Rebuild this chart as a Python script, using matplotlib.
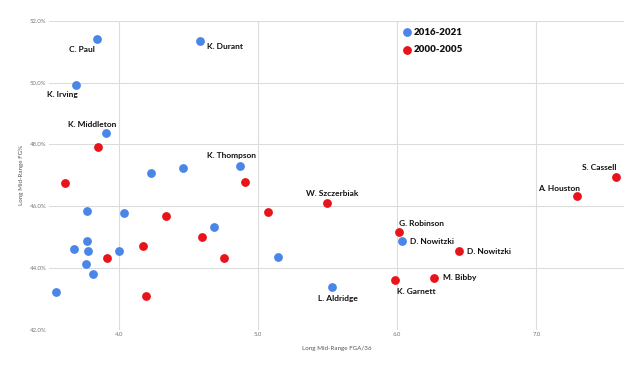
import matplotlib
matplotlib.use("Agg")
import matplotlib.pyplot as plt
from matplotlib.ticker import FuncFormatter, MultipleLocator

# ---- data ----
recent_x = [3.844, 4.584, 3.695, 3.909, 4.232, 4.462, 4.874, 3.770, 4.040, 4.685,
            3.772, 3.681, 3.779, 4.004, 3.763, 3.813, 3.552, 5.144, 5.535, 6.035]
recent_y = [51.41, 51.36, 49.94, 48.36, 47.06, 47.23, 47.30, 45.85, 45.78, 45.32,
            44.86, 44.62, 44.55, 44.53, 44.11, 43.80, 43.21, 44.34, 43.38, 44.86]
recent_labels = ["C. Paul", "K. Durant", "K. Irving", "K. Middleton", "", "", "K. Thompson",
                 "", "", "", "", "", "", "", "", "", "", "", "L. Aldridge", "D. Nowitzki"]

old_x = [3.849, 3.616, 4.910, 5.073, 4.338, 4.601, 4.177, 3.914, 4.754, 4.196,
         5.499, 7.295, 7.575, 6.011, 6.442, 6.265, 5.985]
old_y = [47.93, 46.74, 46.77, 45.82, 45.68, 45.00, 44.72, 44.32, 44.32, 43.09,
         46.09, 46.32, 46.94, 45.15, 44.54, 43.67, 43.60]
old_labels = ["", "", "", "", "", "", "", "", "", "",
              "W. Szczerbiak", "A. Houston", "S. Cassell", "G. Robinson", "D. Nowitzki",
              "M. Bibby", "K. Garnett"]

series_names = ["2016-2021", "2000-2005"]
x_label = "Long Mid-Range FGA/36"
y_label = "Long Mid-Range FG%"

# ---- styling / placement ----
BLUE = "#4a86e8"
RED = "#e8131b"
FONT = "Lato"

# label offsets in pixels (dx, dy, ha)
recent_offsets = {
    "C. Paul": (-15, -10.5, "center"),
    "K. Durant": (7, -5.6, "left"),
    "K. Irving": (-14, -10, "center"),
    "K. Middleton": (-14, 9, "center"),
    "K. Thompson": (-9, 10.3, "center"),
    "L. Aldridge": (5.4, -11.3, "center"),
    "D. Nowitzki": (8, 0, "left"),
}
old_offsets = {
    "W. Szczerbiak": (5, 10, "center"),
    "A. Houston": (-18, 8, "center"),
    "S. Cassell": (0, 9.3, "right"),
    "G. Robinson": (23, 9.3, "center"),
    "D. Nowitzki": (8, 0, "left"),
    "M. Bibby": (8.7, 0, "left"),
    "K. Garnett": (2, -11.3, "left"),
}

X0, X1 = 3.5, 7.63
left_px = 49.1
fig = plt.figure(figsize=(6.4, 3.71), dpi=100)
ax = fig.add_axes([left_px / 640, 1 - 329.5 / 371, (624 - left_px) / 640, (329.5 - 21) / 371])

ax.scatter(recent_x, recent_y, s=40, color=BLUE, zorder=3, label=series_names[0], linewidths=0)
ax.scatter(old_x, old_y, s=40, color=RED, zorder=3, label=series_names[1], linewidths=0)

def add_labels(xs, ys, labels, offsets):
    for x, y, lab in zip(xs, ys, labels):
        if not lab:
            continue
        dx, dy, ha = offsets[lab]
        ax.annotate(lab, (x, y), xytext=(dx, dy), textcoords="offset pixels",
                    ha=ha, va="center", fontsize=6, fontweight="bold",
                    family=FONT, color="#111111", zorder=4)

add_labels(recent_x, recent_y, recent_labels, recent_offsets)
add_labels(old_x, old_y, old_labels, old_offsets)

ax.set_xlim(X0, X1)
ax.set_ylim(42.0, 52.0)
ax.xaxis.set_major_locator(MultipleLocator(1.0))
ax.yaxis.set_major_locator(MultipleLocator(2.0))
ax.xaxis.set_major_formatter(FuncFormatter(lambda v, p: f"{v:.1f}"))
ax.yaxis.set_major_formatter(FuncFormatter(lambda v, p: f"{v:.1f}%"))
ax.grid(True, color="#dcdcdc", linewidth=0.8, zorder=0)
ax.set_axisbelow(True)
for s in ax.spines.values():
    s.set_visible(False)
ax.tick_params(length=0, labelsize=4.3, labelcolor="#777777", pad=2)
for t in ax.get_xticklabels() + ax.get_yticklabels():
    t.set_family(FONT)

ax.set_xlabel(x_label, fontsize=4.5, color="#555555", family=FONT, labelpad=6)
ax.set_ylabel(y_label, fontsize=4.5, color="#555555", family=FONT, labelpad=4)

leg = ax.legend(loc="upper left", bbox_to_anchor=(403 / 640, 1 - 28 / 371),
                bbox_transform=fig.transFigure, frameon=False,
                prop={"family": FONT, "weight": "heavy", "size": 7},
                handletextpad=0.35, labelspacing=0.85, borderpad=0, borderaxespad=0,
                handlelength=0.8, markerscale=1.0)
for t in leg.get_texts():
    t.set_color("#111111")

fig.savefig("out.png", dpi=100)
